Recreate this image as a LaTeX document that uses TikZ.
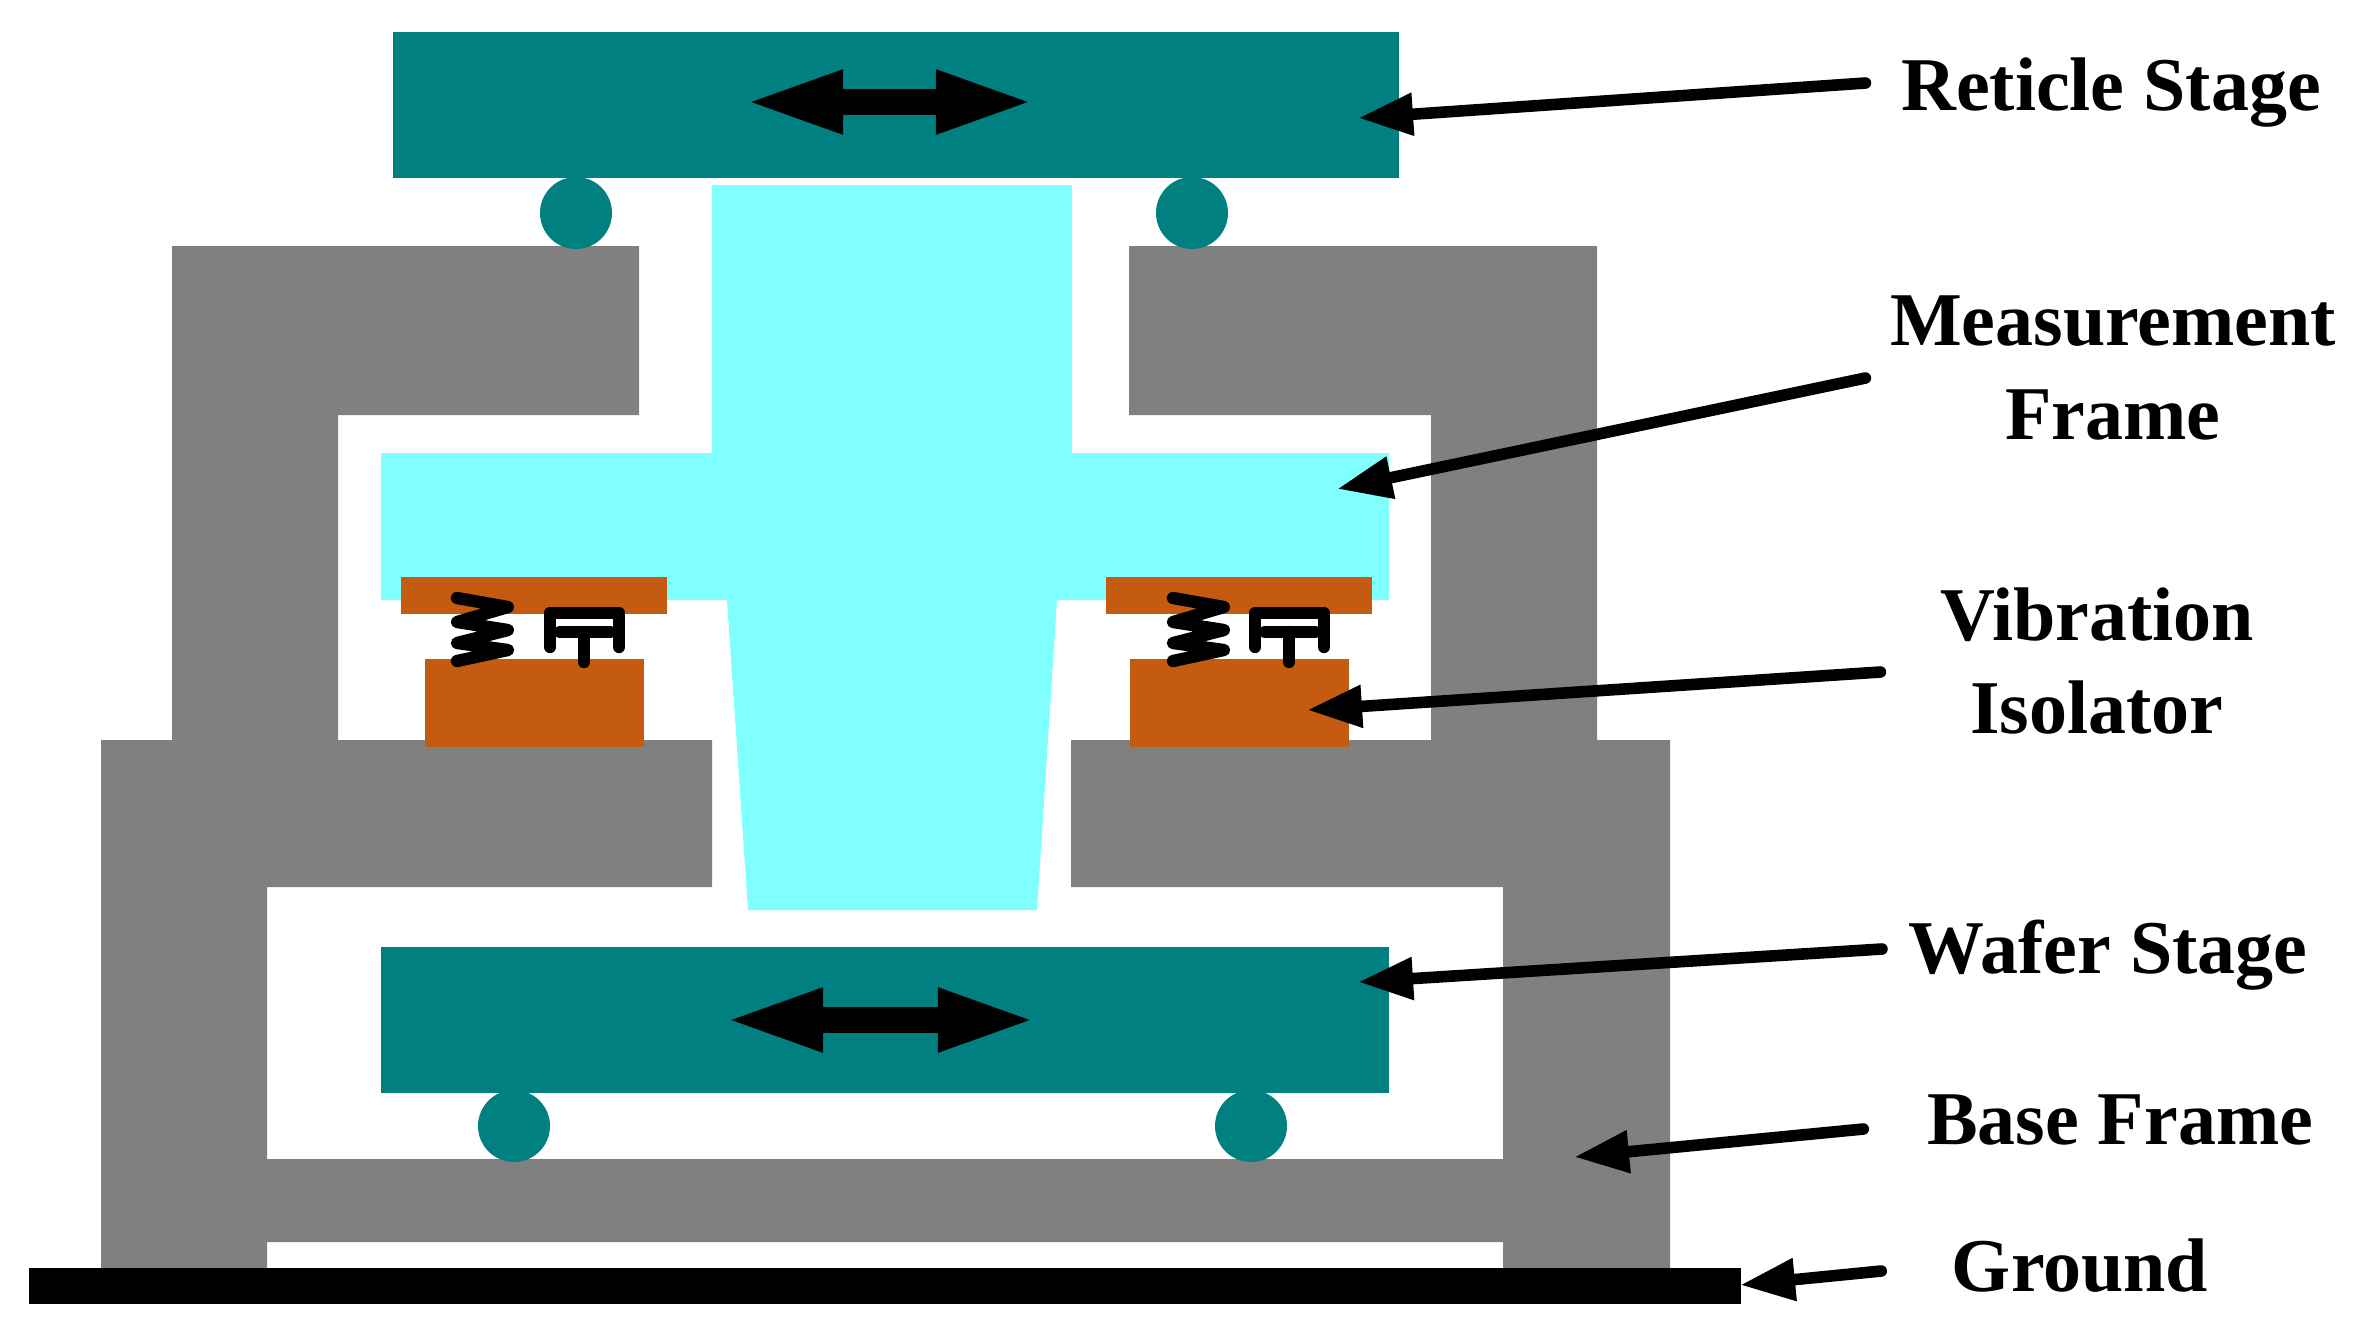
\documentclass[tikz,border=0pt]{standalone}
\usepackage{fontspec}
\setmainfont{Liberation Serif}
\usetikzlibrary{arrows.meta, calc}
\definecolor{framecolor}{RGB}{128, 128, 128}
\definecolor{stagecolor}{RGB}{0, 128, 128}
\definecolor{metrocolor}{RGB}{128, 255, 255}
\definecolor{isolatorcolor}{RGB}{197, 90, 17}
\definecolor{seamcolor}{RGB}{122, 133, 142}
\tikzset{
  pointer/.style={line width=3.3pt, line cap=round, -{Triangle[length=0.55cm, width=0.4cm]}},
  travel/.style={line width=7.4pt, {Triangle[length=1.02cm, width=0.56cm]}-{Triangle[length=1.02cm, width=0.56cm]}},
  namelabel/.style={font=\fontsize{21.6pt}{26.7pt}\selectfont\bfseries, align=center, inner sep=0pt},
  coil/.style={line width=3.5pt, line cap=round, line join=round},
  seam/.style={line width=0.5pt, seamcolor}
}

\begin{document}
\begin{tikzpicture}[x=0.01cm, y=-0.01cm]
  \useasboundingbox (0,0) rectangle (2369,1335);
  % base frame
  \fill[framecolor] (101,740) -- (712,740) -- (712,887) -- (267,887) -- (267,1159) -- (1503,1159)
        -- (1503,887) -- (1071,887) -- (1071,740) -- (1670,740) -- (1670,1270) -- (1503,1270)
        -- (1503,1242) -- (267,1242) -- (267,1270) -- (101,1270) -- cycle;
  % reticle support
  \fill[framecolor] (172,246) -- (639,246) -- (639,415) -- (338,415) -- (338,745) -- (172,745) -- cycle;
  \fill[framecolor] (1129,246) -- (1597,246) -- (1597,745) -- (1431,745) -- (1431,415) -- (1129,415) -- cycle;
  \draw[seam] (1503,1243) -- (1632,1243) -- (1632,1173);
  \draw[seam] (204,1243) -- (267,1243);
  % measurement frame
  \fill[metrocolor] (712,185) -- (1072,185) -- (1072,453) -- (1389,453) -- (1389,600) -- (1057,600)
        -- (1037,910) -- (748,910) -- (727,600) -- (381,600) -- (381,453) -- (712,453) -- cycle;
  % stages
  \fill[stagecolor] (393,32) rectangle (1399,178);
  \fill[stagecolor] (381,947) rectangle (1389,1093);
  \foreach \ballx/\bally in {576/213, 1192/213, 514/1126, 1251/1126}
    \fill[stagecolor] (\ballx,\bally) circle (36);
  % isolators
  \foreach \dx/\coilx in {0/0, 705/11} {
    \begin{scope}[xshift=\dx*0.01cm]
      \fill[isolatorcolor] (401,577) rectangle (667,614);
      \fill[isolatorcolor] (425,659) rectangle (644,747);
      \begin{scope}[xshift=\coilx*0.01cm]
        \draw[coil] (457,598) -- (508,607) -- (457,622) -- (508,630) -- (457,643) -- (508,650) -- (457,661);
      \end{scope}
      \draw[coil] (550,647) -- (550,613) -- (619,613) -- (619,647);
      \draw[coil] (560,632) -- (610,632);
      \draw[coil] (584,632) -- (584,662);
    \end{scope}
  }
  % ground
  \fill[black] (29,1268) rectangle (1741,1304);
  % motion arrows
  \coordinate (reticleleft) at (741,102);
  \coordinate (reticleright) at (1038,102);
  \coordinate (waferleft) at (721,1020);
  \coordinate (waferright) at (1040,1020);
  \draw[travel] (reticleleft) -- (reticleright);
  \draw[travel] (waferleft) -- (waferright);
  % labels
  \node[namelabel] (lblreticle) at (2111,93) {Reticle Stage};
  \node[namelabel] (lblmeasure) at (2113,368) {Measurement\\Frame};
  \node[namelabel] (lblisolator) at (2097,661) {Vibration\\Isolator};
  \node[namelabel] (lblwafer) at (2108,955) {Wafer Stage};
  \node[namelabel] (lblbase) at (2120,1120) {Base Frame};
  \node[namelabel] (lblground) at (2080,1266) {Ground};
  \coordinate (tipreticle) at (1358,118);
  \coordinate (tipmeasure) at (1337,489);
  \coordinate (tipisolator) at (1307,710);
  \coordinate (tipwafer) at (1358,982);
  \coordinate (tipbase) at (1574,1157);
  \coordinate (tipground) at (1740,1285);
  \draw[pointer] ($(lblreticle.west)+(-35,-10)$) -- (tipreticle);
  \draw[pointer] ($(lblmeasure.west)+(-24,10)$) -- (tipmeasure);
  \draw[pointer] ($(lblisolator.west)+(-59,11)$) -- (tipisolator);
  \draw[pointer] ($(lblwafer.west)+(-26,-6)$) -- (tipwafer);
  \draw[pointer] ($(lblbase.west)+(-63,9)$) -- (tipbase);
  \draw[pointer] ($(lblground.west)+(-70,5)$) -- (tipground);
\end{tikzpicture}
\end{document}
